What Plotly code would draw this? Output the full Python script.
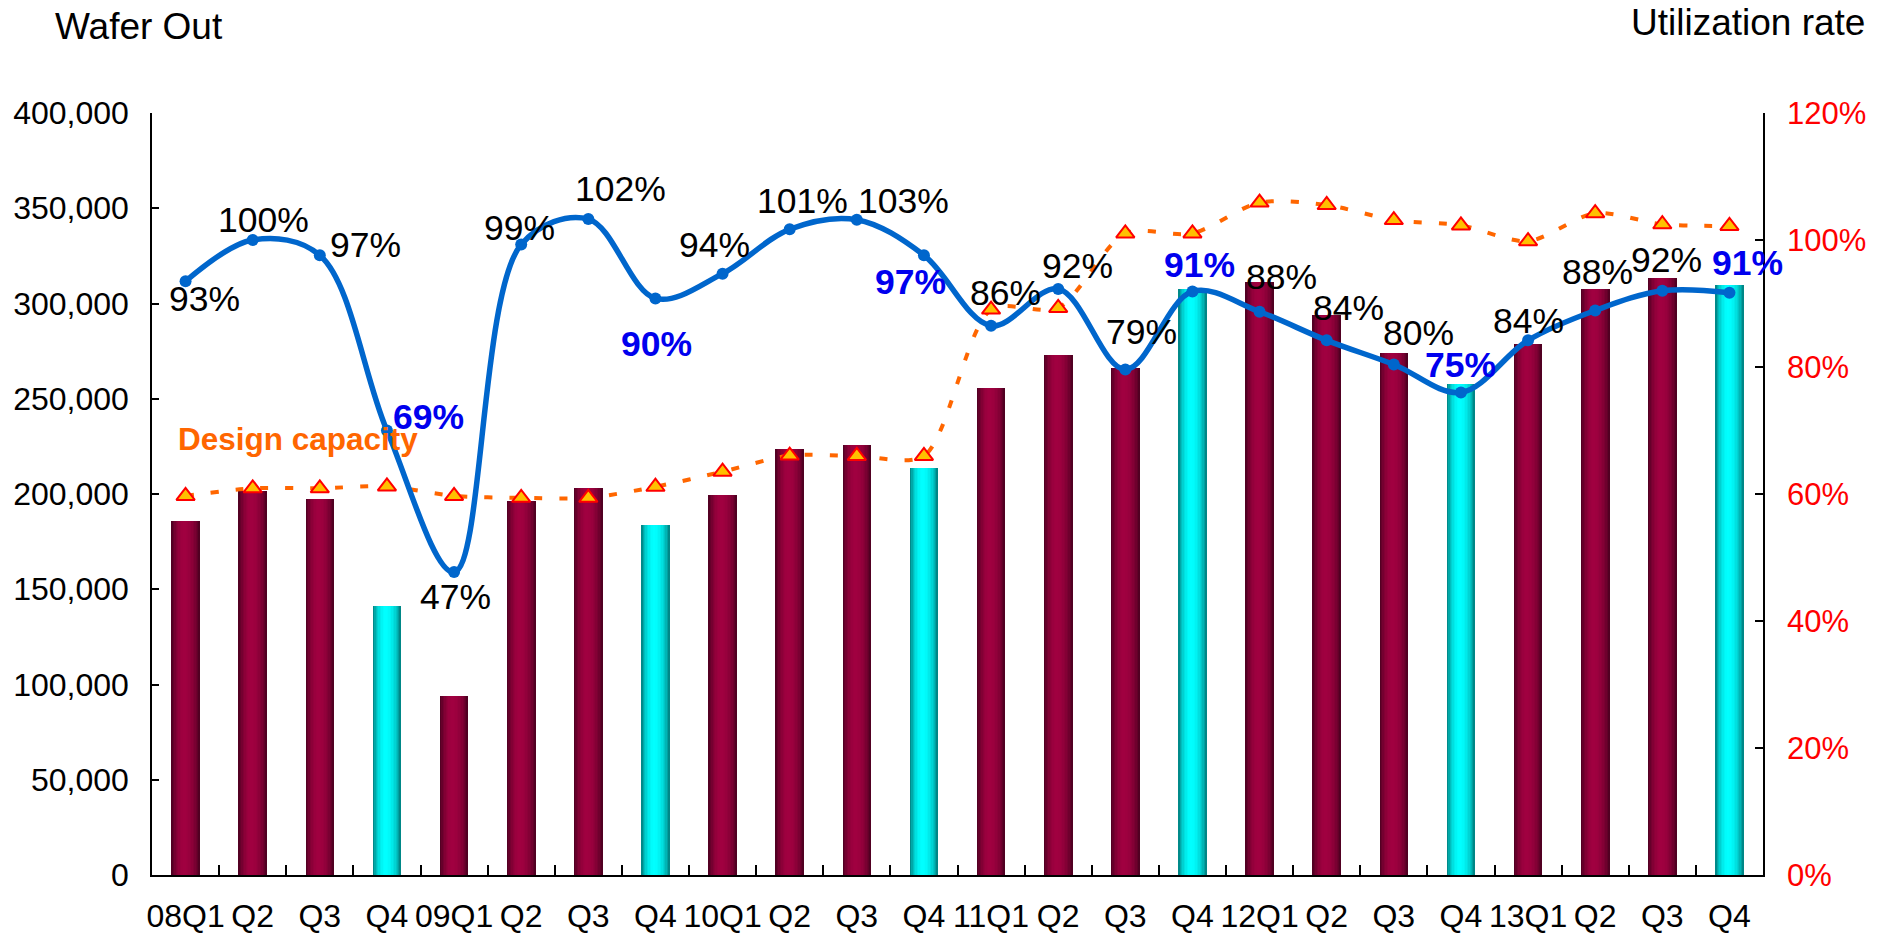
import math
import plotly.graph_objects as go

# ---------------- data ----------------
quarters = ["08Q1", "Q2", "Q3", "Q4", "09Q1", "Q2", "Q3", "Q4",
            "10Q1", "Q2", "Q3", "Q4", "11Q1", "Q2", "Q3", "Q4",
            "12Q1", "Q2", "Q3", "Q4", "13Q1", "Q2", "Q3", "Q4"]

wafer_out = [185800, 201700, 197400, 141000, 94200, 196300, 203000, 183700,
             199500, 223700, 225800, 213700, 255800, 273200, 266000, 307400,
             311400, 293800, 274200, 257900, 279000, 307400, 313200, 309500]

design_capacity = [199000, 203000, 203000, 204000, 199000, 198000, 198000, 203800,
                   211700, 220200, 220000, 220000, 296800, 297700, 336800, 336800,
                   353000, 351700, 343800, 341000, 332700, 347400, 341600, 340700]

utilization = [0.935, 1.000, 0.976, 0.700, 0.477, 0.993, 1.033, 0.908,
               0.947, 1.017, 1.032, 0.976, 0.865, 0.923, 0.796, 0.919,
               0.887, 0.842, 0.804, 0.760, 0.842, 0.889, 0.920, 0.917]

util_labels = ["93%", "100%", "97%", "69%", "47%", "99%", "102%", "90%",
               "94%", "101%", "103%", "97%", "86%", "92%", "79%", "91%",
               "88%", "84%", "80%", "75%", "84%", "88%", "92%", "91%"]

left_ticks = [0, 50000, 100000, 150000, 200000, 250000, 300000, 350000, 400000]
right_ticks = [0, 0.2, 0.4, 0.6, 0.8, 1.0, 1.2]

# label pixel offsets (dx right, dy down) relative to each utilization point
label_offsets = [(19, 18), (11, -20), (46, -10), (42, -14), (1, 25), (-2, -16),
                 (32, -30), (1, 46), (-8, -29), (13, -28), (47, -19), (-13, 27),
                 (14, -33), (19, -23), (16, -38), (7, -26), (22, -35), (22, -32),
                 (25, -31), (0, -27), (0, -19), (2, -38), (4, -31), (18, -30)]

# ---------------- styling ----------------
FONT = "Liberation Sans, Arial, Helvetica, sans-serif"
MR_DARK, MR_BRIGHT = (66, 0, 28), (160, 0, 64)
CY_DARK, CY_BRIGHT = (0, 112, 112), (0, 255, 255)
BAR_W = 0.425
K = 20

x = list(range(len(quarters)))
is_q4 = [q.endswith("Q4") for q in quarters]


def profile(t):
    # cylinder-like shading, peak slightly left of centre
    tp = t / 0.9 if t < 0.45 else 0.5 + (t - 0.45) / 1.1
    return max(0.0, math.sin(math.pi * tp)) ** 0.7


def mix(c0, c1, b):
    return "rgb(%d,%d,%d)" % tuple(round(a + (c - a) * b) for a, c in zip(c0, c1))


fig = go.Figure()

for k in range(K):
    b = profile((k + 0.5) / K)
    cols = [mix(CY_DARK, CY_BRIGHT, b) if q else mix(MR_DARK, MR_BRIGHT, b) for q in is_q4]
    fig.add_trace(go.Bar(
        x=x, y=wafer_out,
        width=BAR_W - k * BAR_W / K,
        offset=-BAR_W / 2 + k * BAR_W / K,
        marker=dict(color=cols, line=dict(width=0)),
        showlegend=False, hoverinfo="skip", yaxis="y"))

fig.add_trace(go.Scatter(
    x=x, y=design_capacity, mode="lines+markers", yaxis="y",
    line=dict(color="#ff6600", width=4, dash="8px,17px", shape="spline", smoothing=0.8),
    marker=dict(symbol="triangle-up", size=16, color="#ffc000",
                line=dict(color="#ff0000", width=2)),
    showlegend=False, name="Design capacity"))

fig.add_trace(go.Scatter(
    x=x, y=utilization, mode="lines+markers", yaxis="y2",
    line=dict(color="#0066cc", width=5.5, shape="spline", smoothing=1.0),
    marker=dict(symbol="circle", size=12, color="#0066cc"),
    showlegend=False, name="Utilization rate"))

annotations = []
for i, (lab, u, (dx, dy), q4) in enumerate(zip(util_labels, utilization, label_offsets, is_q4)):
    annotations.append(dict(
        x=i, y=u, xref="x", yref="y2", text=("<b>%s</b>" % lab) if q4 else lab,
        showarrow=False, xshift=dx, yshift=-dy,
        font=dict(family=FONT, size=35.5, color="#0000ee" if q4 else "black")))

annotations += [
    dict(text="Wafer Out", xref="paper", yref="paper", x=-0.0615, y=1.113,
         xanchor="left", yanchor="middle", showarrow=False,
         font=dict(family=FONT, size=37, color="black")),
    dict(text="Utilization rate", xref="paper", yref="paper", x=1.0646, y=1.1185,
         xanchor="right", yanchor="middle", showarrow=False,
         font=dict(family=FONT, size=37, color="black")),
    dict(text="<b>Design capacity</b>", xref="paper", yref="paper", x=0.0149, y=0.5723,
         xanchor="left", yanchor="middle", showarrow=False,
         font=dict(family=FONT, size=31.5, color="#ff6600")),
]

fig.update_layout(
    width=1885, height=933,
    margin=dict(l=152, r=122, t=113, b=58),
    paper_bgcolor="white", plot_bgcolor="white",
    barmode="overlay", bargap=0,
    font=dict(family=FONT, size=32, color="black"),
    annotations=annotations,
    xaxis=dict(
        range=[-0.5, len(quarters) - 0.5], automargin=False,
        tickmode="array", tickvals=x, ticktext=quarters, ticks="",
        tickangle=0, tickfont=dict(size=32, color="black"),
        ticklabelstandoff=12,
        showline=True, linecolor="black", linewidth=2,
        showgrid=False, zeroline=False,
        minor=dict(tickvals=[i + 0.5 for i in x[:-1]], ticks="inside",
                   ticklen=10, tickwidth=1.5, tickcolor="black", showgrid=False)),
    yaxis=dict(
        range=[0, 400000], automargin=False,
        tickmode="array", tickvals=left_ticks, tickformat=",",
        ticks="inside", ticklen=7, tickwidth=1.5, tickcolor="black",
        tickfont=dict(size=32, color="black"), ticklabelstandoff=15,
        showline=True, linecolor="black", linewidth=1.5,
        showgrid=False, zeroline=False),
    yaxis2=dict(
        range=[0, 1.2], overlaying="y", side="right", automargin=False,
        tickmode="array", tickvals=right_ticks, tickformat=".0%",
        ticks="inside", ticklen=8, tickwidth=1.5, tickcolor="black",
        tickfont=dict(size=31, color="#ff0000"), ticklabelstandoff=16,
        showline=True, linecolor="black", linewidth=1.5,
        showgrid=False, zeroline=False),
)

fig.write_html("out.html", config={"displayModeBar": False},
               post_script="document.body.style.margin='0';document.body.style.overflow='hidden';")
